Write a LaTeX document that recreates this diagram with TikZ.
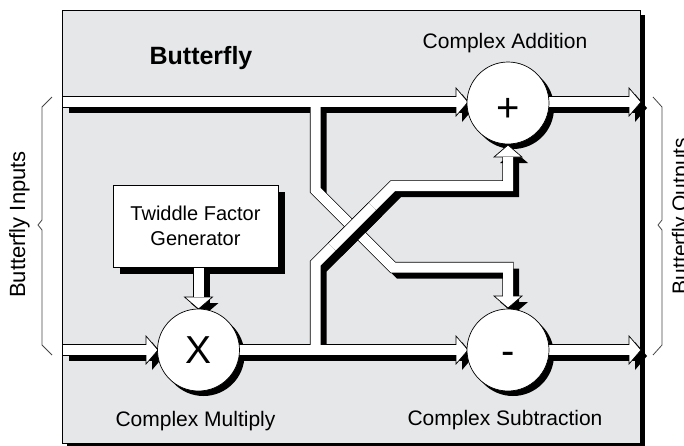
\documentclass[tikz,border=0pt]{standalone}
\usepackage{fontspec}
\setmainfont{Liberation Sans}
\definecolor{boxgray}{RGB}{230,231,233}
\definecolor{bracegray}{RGB}{70,70,70}
\newcommand\headR[2]{\path[#1] (#2) -- ([xshift=-12pt,yshift=14pt]#2) -- ([xshift=-12pt,yshift=-14pt]#2) -- cycle;}
\newcommand\headD[2]{\path[#1] (#2) -- ([xshift=14pt,yshift=12pt]#2) -- ([xshift=-14pt,yshift=12pt]#2) -- cycle;}
\newcommand\headU[2]{\path[#1] (#2) -- ([xshift=14pt,yshift=-12pt]#2) -- ([xshift=-14pt,yshift=-12pt]#2) -- cycle;}
\newcommand\allstrips[1]{%
  \path[#1] (tA0) -- (tA1);
  \path[#1] (bA0) -- (bA1);
  \path[#1] (xo0) -- (xo1);
  \path[#1] (ao0) -- (ao1);
  \path[#1] (so0) -- (so1);
  \path[#1] (d0) -- (d1) -- (d2) -- (d3) -- (d4);
  \path[#1] (u0) -- (u1) -- (u2) -- (u3) -- (u4);
  \path[#1] (w0) -- (w1);}
\newcommand\allheads[1]{%
  \headR{#1}{hA}\headR{#1}{hM}\headR{#1}{hS}\headR{#1}{hAo}\headR{#1}{hSo}%
  \headD{#1}{hSt}\headD{#1}{hMt}\headU{#1}{hAb}}
\begin{document}
\begin{tikzpicture}[x=1pt,y=-1pt,
  shadowstrip/.style={draw=black,line width=10pt,line cap=butt,line join=miter},
  outlinestrip/.style={draw=black,line width=11.4pt,line cap=butt,line join=miter},
  whitestrip/.style={draw=white,line width=10pt,line cap=butt,line join=miter},
  shadowhead/.style={fill=black},
  headstyle/.style={fill=white,draw=black,line width=0.7pt,line join=miter},
  opcircle/.style={circle,draw=black,fill=white,line width=0.7pt,minimum size=82pt,inner sep=0pt},
  lbl/.style={font=\fontsize{21}{25}\selectfont,inner sep=0pt},
  sym/.style={font=\fontsize{40}{40}\selectfont,inner sep=0pt,anchor=base},
  bracestyle/.style={draw=bracegray,line width=0.8pt,line join=miter}]
\useasboundingbox (0,0) rectangle (684,445);
% coordinates
\coordinate (tA0) at (62.5,102); \coordinate (tA1) at (457,102); \coordinate (hA) at (468,102);
\coordinate (bA0) at (62.5,350); \coordinate (bA1) at (147,350); \coordinate (hM) at (158,350);
\coordinate (xo0) at (236,350); \coordinate (xo1) at (457,350); \coordinate (hS) at (468,350);
\coordinate (ao0) at (545,102); \coordinate (ao1) at (630,102); \coordinate (hAo) at (641,102);
\coordinate (so0) at (545,350); \coordinate (so1) at (630,350); \coordinate (hSo) at (641,350);
\coordinate (d0) at (315.5,102); \coordinate (d1) at (315.5,190); \coordinate (d2) at (393,267.5);
\coordinate (d3) at (508,267.5); \coordinate (d4) at (508,297); \coordinate (hSt) at (508,308);
\coordinate (u0) at (315.5,350); \coordinate (u1) at (315.5,263.5); \coordinate (u2) at (393,186);
\coordinate (u3) at (508,186); \coordinate (u4) at (508,157); \coordinate (hAb) at (508,145);
\coordinate (w0) at (198.5,250); \coordinate (w1) at (198.5,297); \coordinate (hMt) at (198.5,309);
\coordinate (c0) at (332.25,246.75); \coordinate (c1) at (372.25,206.75);
\coordinate (pAdd) at (508,103); \coordinate (pSub) at (508,350); \coordinate (pMul) at (198.5,350);
% outer box
\fill[black] (67,15) rectangle (645,449);
\path[fill=boxgray,draw=black,line width=0.8pt] (62,10) rectangle (640,443);
% shadows
\fill[black] (120,192) rectangle (285,274);
\begin{scope}[transform canvas={xshift=5pt,yshift=-5pt}]
  \fill[black] (pAdd) circle[radius=41];
  \fill[black] (pSub) circle[radius=41];
  \fill[black] (pMul) circle[radius=41];
\end{scope}
\begin{scope}[transform canvas={xshift=6pt,yshift=-6pt}]
  \allstrips{shadowstrip}
  \allheads{shadowhead}
\end{scope}
% outlines, heads, white strips
\allstrips{outlinestrip}
\allheads{headstyle}
\allstrips{whitestrip}
% crossing: the rising strip passes over
\begin{scope}[transform canvas={xshift=6pt,yshift=-6pt}]
  \path[shadowstrip] (c0) -- (c1);
\end{scope}
\path[outlinestrip] (c0) -- (c1);
\path[whitestrip] (c0) -- (c1);
% operator circles
\node[opcircle] (cAdd) at (pAdd) {};
\node[opcircle] (cSub) at (pSub) {};
\node[opcircle] (cMul) at (pMul) {};
\node[sym] (plus) at (508,121.5) {+};
\node[sym] (minus) at (508,364) {-};
\node[sym,font=\fontsize{39}{39}\selectfont] (times) at (198.5,363) {X};
% twiddle factor generator
\node[draw=black,fill=white,line width=0.7pt,minimum width=165pt,minimum height=82pt,
      inner sep=0pt,align=center,font=\fontsize{20}{25}\selectfont] (tw) at (195.5,226)
      {Twiddle Factor\\Generator};
% labels
\node[font=\fontsize{25}{30}\selectfont\bfseries,inner sep=0pt,anchor=base] (title) at (201,64) {Butterfly};
\node[lbl,anchor=base] (lAdd) at (505,48) {Complex Addition};
\node[lbl,anchor=base] (lMul) at (195.5,426) {Complex Multiply};
\node[lbl,anchor=base] (lSub) at (505,425) {Complex Subtraction};
\node[lbl,font=\fontsize{22}{25}\selectfont,rotate=90,anchor=base] (lIn) at (25,224.5) {Butterfly Inputs};
\node[lbl,rotate=90,anchor=base] (lOut) at (687,216) {Butterfly Outputs};
% braces
\path[bracestyle] (52,97) -- (42,107) -- (42,220) -- (38,225) -- (42,230) -- (42,345) -- (52,355);
\path[bracestyle] (653,97) -- (662,107) -- (662,220) -- (658,225) -- (662,230) -- (662,345) -- (653,355);
\end{tikzpicture}
\end{document}
